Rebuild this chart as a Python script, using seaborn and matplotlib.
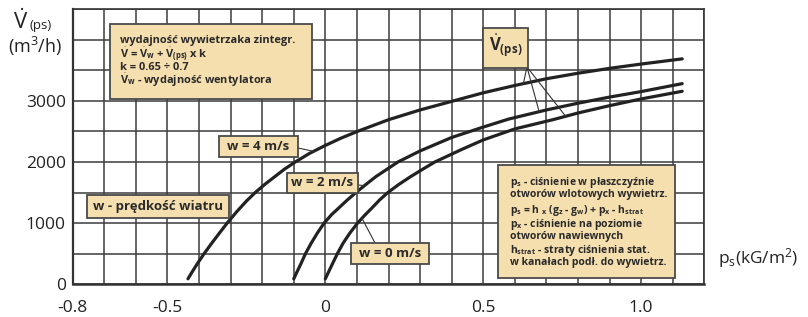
import matplotlib.pyplot as plt
import numpy as np
import pandas as pd
import seaborn as sns
from matplotlib.patches import Rectangle

# p_s [kG/m2] i wydajnosc V(ps) [m3/h]
ps_w4 = [-0.435, -0.422, -0.405, -0.384, -0.36, -0.335, -0.311, -0.28, -0.25, -0.222, -0.19,
         -0.16, -0.13, -0.095, -0.05, 0.0, 0.05, 0.102, 0.2, 0.3, 0.4, 0.5, 0.6, 0.7, 0.8,
         0.9, 1.0, 1.13]
v_w4 = [90, 200, 340, 500, 670, 840, 1000, 1190, 1360, 1500, 1640,
        1760, 1880, 2000, 2140, 2270, 2390, 2500, 2690, 2850, 2990, 3130, 3250, 3360, 3450,
        3530, 3600, 3685]
ps_w2 = [-0.1, -0.09, -0.077, -0.063, -0.045, -0.025, -0.004, 0.02, 0.045, 0.07, 0.097,
         0.128, 0.16, 0.195, 0.23, 0.3, 0.4, 0.5, 0.58, 0.7, 0.8, 0.9, 1.0, 1.13]
v_w2 = [90, 200, 340, 500, 670, 840, 1000, 1140, 1260, 1380, 1500,
        1630, 1760, 1880, 2000, 2180, 2400, 2570, 2700, 2850, 2960, 3060, 3150, 3280]
ps_w0 = [0.0, 0.01, 0.023, 0.038, 0.056, 0.078, 0.102, 0.125, 0.148, 0.172, 0.198,
         0.232, 0.27, 0.308, 0.347, 0.43, 0.5, 0.6, 0.72, 0.8, 0.9, 1.0, 1.13]
v_w0 = [90, 200, 340, 500, 670, 840, 1000, 1130, 1250, 1380, 1500,
        1630, 1760, 1880, 2000, 2200, 2360, 2540, 2690, 2800, 2920, 3030, 3155]
wind = ['w = 4 m/s', 'w = 2 m/s', 'w = 0 m/s']

x_ticks = [round(-0.8 + 0.1 * i, 1) for i in range(21)]
x_labels = {-0.8: '-0.8', -0.5: '-0.5', 0.0: '0', 0.5: '0.5', 1.0: '1.0'}
y_ticks = list(range(0, 4501, 500))
y_labels = {0: '0', 1000: '1000', 2000: '2000', 3000: '3000'}

box_txt_1 = ['wydajność wywietrzaka zintegr.',
             r'$\dot{\mathbf{V}}$ = $\dot{\mathbf{V}}_\mathbf{w}$ + $\dot{\mathbf{V}}_\mathbf{(ps)}$ x k',
             'k = 0.65 ÷ 0.7',
             r'$\dot{\mathbf{V}}_\mathbf{w}$ - wydajność wentylatora']
box_txt_2 = [r'p$_\mathbf{s}$ - ciśnienie w płaszczyźnie',
             'otworów wlotowych wywietrz.',
             r'p$_\mathbf{s}$ = h $_\mathbf{x}$ (g$_\mathbf{z}$ - g$_\mathbf{w}$) + p$_\mathbf{x}$ - h$_\mathbf{strat}$',
             r'p$_\mathbf{x}$ - ciśnienie na poziomie',
             'otworów nawiewnych',
             r'h$_\mathbf{strat}$ - straty ciśnienia stat.',
             'w kanałach podł. do wywietrz.']

df = pd.concat([
    pd.DataFrame({'ps': ps_w4, 'V': v_w4, 'w': wind[0]}),
    pd.DataFrame({'ps': ps_w2, 'V': v_w2, 'w': wind[1]}),
    pd.DataFrame({'ps': ps_w0, 'V': v_w0, 'w': wind[2]}),
])

sns.set_style('white')
plt.rcParams['font.family'] = ['Open Sans', 'DejaVu Sans']
plt.rcParams['mathtext.fontset'] = 'custom'
plt.rcParams['mathtext.rm'] = 'Open Sans'
plt.rcParams['mathtext.bf'] = 'Open Sans:bold'
plt.rcParams['mathtext.it'] = 'Open Sans:italic'

W, H = 808, 317
fig = plt.figure(figsize=(W / 100, H / 100), dpi=100)
ax = fig.add_axes([72.7 / W, 1 - 284.3 / H, 631.6 / W, 275.3 / H])


def fx(px):
    return px / W


def fy(py):
    return 1 - py / H


sns.lineplot(data=df, x='ps', y='V', hue='w', palette=['#222222'] * 3, sort=False,
             estimator=None, lw=2.3, legend=False, ax=ax, zorder=3)

ax.set_xlim(-0.8, 1.2)
ax.set_ylim(0, 4500)
ax.set_xticks(x_ticks)
ax.set_xticklabels([x_labels.get(t, '') for t in x_ticks])
ax.set_yticks(y_ticks)
ax.set_yticklabels([y_labels.get(t, '') for t in y_ticks])
ax.tick_params(axis='both', length=0, labelsize=12.5, colors='#222222')
ax.tick_params(axis='x', pad=11)
ax.tick_params(axis='y', pad=5)
ax.set_xlabel('')
ax.set_ylabel('')
ax.grid(True, color='#3c3c3c', lw=1.1)
for s in ax.spines.values():
    s.set_color('#333333')
    s.set_linewidth(1.2)
ax.spines['bottom'].set_linewidth(1.8)
ax.spines['left'].set_linewidth(1.6)

fill = '#f5dfae'


def box(x0, y0, x1, y1):
    ax.add_patch(Rectangle((fx(x0), fy(y1)), (x1 - x0) / W, (y1 - y0) / H,
                           transform=fig.transFigure, fc=fill, ec='#4a4a4a', lw=1.3,
                           zorder=5, clip_on=False))


def txt(px, py, s, size, va='center', **kw):
    ax.text(fx(px), fy(py), s, transform=fig.transFigure, fontsize=size,
            fontweight='bold', color='#2a2a2a', va=va, zorder=6, **kw)


def leader(px, py, xs, ys, at):
    ax.annotate('', xy=(at, np.interp(at, xs, ys)), xycoords='data',
                xytext=(fx(px), fy(py)), textcoords='figure fraction',
                arrowprops=dict(arrowstyle='-', color='#333333', lw=0.8,
                                shrinkA=0, shrinkB=0), zorder=4)


# opis wydajnosci
box(110, 24, 312, 99)
for s, py in zip(box_txt_1, [42.5, 57, 70, 84]):
    txt(120, py, s, 7.9, va='baseline')

# opis cisnienia
box(498, 165, 675, 278)
for s, py in zip(box_txt_2, [184.5, 197, 212.5, 227.5, 239, 252.5, 264.5]):
    txt(510, py, s, 7.5, va='baseline')

# etykiety krzywych
box(219, 136, 298, 157)
txt(258.5, 146.5, wind[0], 9.5, ha='center')
leader(298, 148, ps_w4, v_w4, -0.037)
box(287, 173, 358, 193)
txt(322.5, 183, wind[1], 9.5, ha='center')
leader(358, 185, ps_w2, v_w2, 0.124)
box(351, 243, 429, 264)
txt(390, 253.5, wind[2], 9.5, ha='center')
leader(375, 243, ps_w0, v_w0, 0.116)
box(87, 195, 229, 218)
txt(158, 206.5, 'w - prędkość wiatru', 9.5, ha='center')

# V(ps)
box(483, 28, 528, 68)
txt(505.5, 46, r'$\dot{\mathbf{V}}_{\mathbf{(ps)}}$', 12, ha='center')
leader(527, 67, ps_w4, v_w4, 0.627)
leader(527, 67, ps_w2, v_w2, 0.677)
leader(527, 67, ps_w0, v_w0, 0.761)

# opisy osi
fig.text(fx(20.5), fy(22), r'$\dot{\mathrm{V}}$', fontsize=16, color='#222222',
         ha='center', va='center')
fig.text(fx(30), fy(26), '(ps)', fontsize=9.5, color='#222222', ha='left', va='center')
fig.text(fx(35), fy(46), r'(m$^3$/h)', fontsize=13, color='#222222', ha='center', va='center')
fig.text(fx(718), fy(258), r'p$_\mathrm{s}$(kG/m$^2$)', fontsize=12.5, color='#222222',
         ha='left', va='center')

fig.savefig('out.png', dpi=100)
